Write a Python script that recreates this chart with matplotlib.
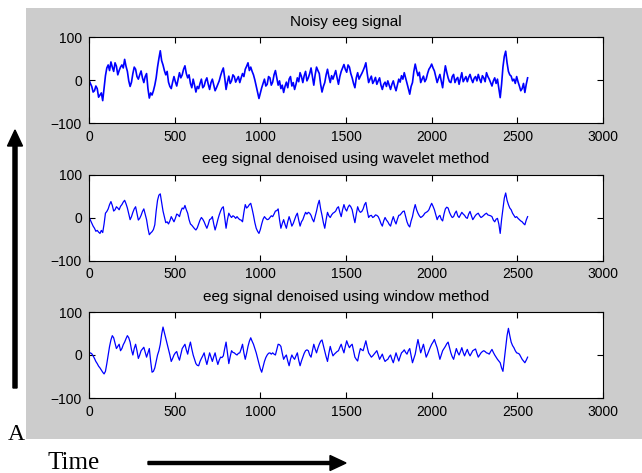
import numpy as np
import matplotlib
matplotlib.use("Agg")
import matplotlib.pyplot as plt
from matplotlib.patches import Rectangle, FancyArrow

# values every 8 samples (0 .. 2560)
STEP = 8

noisy = [
    0, -8, -15, -28, -25, -14, -20, -40, -35, -30, -48, -20, 10, 28, 35, 22, 42, 30, 20, 40,
    32, 12, 22, 30, 35, 28, 48, 32, 20, -2, -15, -5, 15, 30, 25, 8, 2, 12, 21, 5,
    -6, 8, 15, -20, -42, -30, -35, -25, -12, 5, 30, 50, 68, 45, 35, 22, 12, 20, -5, -15,
    -20, -5, 8, -4, -14, 2, 17, 5, 12, 25, 33, 15, 5, 12, -8, -18, 2, -12, -28, -15,
    -20, -8, 2, -18, -14, -2, 5, -10, -22, -6, 2, -12, -25, -18, -10, -2, 10, 20, 28, 5,
    -22, -5, 9, -8, -2, 12, 8, -5, 2, 8, -6, 5, 15, 8, 25, 32, 40, 22, 30, 20,
    12, 0, -14, -28, -43, -30, -18, -8, 2, -14, -10, 8, 5, -12, -5, 12, 22, 5, -12, -2,
    -20, -12, -29, -15, -5, -18, 2, 8, -14, -6, -22, -10, 5, -4, 17, 8, -6, 10, 20, -2,
    5, 15, 28, 8, -12, 12, 30, 22, 15, -10, -28, -15, -6, 12, 25, 8, -6, 10, 2, 12,
    22, 5, -10, 8, 20, 28, 36, 25, 18, 35, 30, 15, 5, -8, -18, 5, 17, 2, 9, 15,
    22, 30, 40, 15, -6, 2, 9, -8, -2, 6, -10, -2, 5, -12, -22, -10, -5, -15, -2, -12,
    -22, -10, -2, -15, -25, -12, 2, -5, 10, 2, 17, 5, -6, -20, -33, -15, -6, 20, 37, 22,
    10, 18, -6, 2, 9, -4, 2, 15, 25, 30, 37, 28, 21, 8, -6, 4, 13, -2, -18, 10,
    33, 18, 5, -4, -6, 8, 13, -6, 2, 6, -10, 4, 17, -4, 2, 8, -4, 6, 13, 2,
    -6, 4, 8, -2, 13, 2, -6, 10, 5, -4, 17, 8, 2, -6, -14, -2, 5, -8, 2, -20,
    -41, -10, 30, 55, 67, 40, 20, 12, 9, -2, 2, -8, 8, -4, -14, -25, -20, -8, -29, -10,
    5,
]

wavelet = [
    2, -6, -13, -20, -25, -32, -30, -34, -37, -30, -35, -15, 10, 14, 20, 30, 37, 28, 15, 18,
    25, 22, 18, 26, 30, 36, 40, 32, 22, 8, -5, 2, 12, 20, 25, 10, -6, -2, 5, 14,
    20, 8, -5, -25, -40, -36, -33, -28, -17, 15, 40, 52, 55, 35, 15, 2, -12, -10, -15, -8,
    2, -4, -10, -2, 8, 6, 2, 14, 22, 20, 28, 18, 10, -5, -15, -18, -22, -26, -29, -24,
    -15, -6, 0, -4, -10, -18, -25, -16, -5, -3, 2, -15, -29, -18, -5, 6, 15, 22, 25, 0,
    -25, -5, 10, 4, 0, 4, 2, -2, 2, -2, -5, -6, -10, 12, 30, 22, 25, 30, 33, 20,
    5, -12, -25, -32, -37, -28, -15, -4, 2, -2, -5, -4, 0, 4, 2, 8, 15, 16, 20, -5,
    -25, -14, -5, -16, -25, -10, 2, -8, -20, -14, -5, 4, 10, -6, -20, -10, -5, 4, 12, 8,
    12, 10, 5, -4, -10, 2, 15, 30, 40, 20, 5, -12, -25, -5, 12, 4, 0, 6, 10, 12,
    15, 22, 25, 12, 2, 18, 30, 20, 15, 24, 29, 25, 18, 2, -12, 8, 25, 16, 12, 14,
    20, 30, 35, 16, 0, 4, 5, 0, 2, 6, 5, 2, -5, -14, -20, -8, 0, -6, -10, -16,
    -20, -8, 2, -8, -15, -4, 5, 6, 10, 14, 15, 2, -10, -18, -22, -8, 2, 18, 30, 18,
    10, 4, 0, 2, 5, 10, 12, 14, 18, 26, 33, 26, 18, 6, -5, 2, 5, -4, -8, 8,
    20, 24, 22, 12, 5, 0, 2, 10, 15, 4, 0, 6, 12, 8, 5, 0, -2, 8, 14, 4,
    -5, 0, 5, 8, 10, 4, 0, 2, 5, 8, 10, 6, 5, 4, 2, -6, -10, -4, -2, -15,
    -37, -5, 20, 45, 57, 40, 30, 22, 18, 10, 5, 0, 2, -2, -5, -8, -10, -14, -17, -6,
    2,
]

window = [
    3, 5, 3, -2, -8, -15, -20, -26, -30, -35, -40, -44, -38, -20, 0, 20, 35, 45, 40, 28,
    15, 20, 25, 10, 15, 24, 30, 38, 45, 40, 30, 12, 0, 15, 25, 10, -8, 0, 10, 14,
    18, 6, -5, 5, 15, -15, -40, -38, -30, -15, 0, 10, 25, 48, 65, 52, 40, 25, 12, 0,
    -15, -8, 0, 5, 8, -4, -12, 2, 15, 20, 25, 12, 2, 18, 30, 14, 0, -10, -20, -24,
    -25, -15, -8, -2, 5, -10, -22, -8, 5, -5, -15, -4, 5, -10, -22, -12, -5, -6, -2, 15,
    30, 5, -20, -4, 10, 6, 5, 2, 0, 4, 5, 14, 25, 5, -10, 4, 20, 32, 40, 32,
    25, 15, 5, -8, -20, -32, -40, -28, -15, -6, 0, 4, 5, 2, 5, 2, 0, 12, 25, 24,
    20, 4, -10, -4, 0, -14, -25, -10, 0, -6, -10, -2, 5, -12, -25, -14, -5, 4, 10, 12,
    10, 0, -5, 10, 25, 14, 5, 16, 25, 32, 35, 22, 10, -4, -15, 4, 20, 8, -2, 2,
    5, 8, 10, 18, 25, 14, 5, 20, 33, 24, 17, 22, 25, 10, -5, -10, -14, 2, 15, 12,
    10, 22, 33, 18, 5, 0, -5, -2, 2, 6, 10, 0, -10, -4, 2, -8, -15, -12, -10, -4,
    0, -10, -18, -6, 5, -5, -14, -4, 5, 8, 12, 6, 2, 10, 15, -2, -18, -8, 2, 20,
    36, 20, 5, 15, 25, 10, -5, 2, 10, 18, 25, 30, 36, 26, 17, 4, -10, 0, 10, 15,
    20, 26, 30, 18, 5, -4, -10, 2, 15, 6, 0, 8, 17, 6, -2, 6, 13, 4, -2, 4,
    10, 12, 14, 4, -5, 0, 5, 8, 10, 8, 5, 4, 2, 8, 13, 6, 0, -5, -10, -14,
    -18, -30, -38, -10, 20, 45, 62, 45, 30, 22, 17, 10, 5, 4, 2, -4, -10, -14, -18, -12,
    -5,
]

titles = [
    "Noisy eeg signal",
    "eeg signal denoised using wavelet method",
    "eeg signal denoised using window method",
]
xticks = [0, 500, 1000, 1500, 2000, 2500, 3000]
yticks = [-100, 0, 100]

W, H = 642, 473
fig = plt.figure(figsize=(W / 100, H / 100), dpi=100)
fig.patch.set_facecolor("white")

# matlab style grey figure panel
fig.add_artist(Rectangle((26 / W, 1 - 439 / H), 1 - 26 / W, (439 - 8) / H,
                         transform=fig.transFigure, facecolor="#cccccc",
                         edgecolor="none", zorder=0))

left, width, height = 89 / W, 514 / W, 86 / H
tops = [37, 174.5, 312]
widths = [1.2, 0.9, 0.9]

for sig, title, top, lw in zip([noisy, wavelet, window], titles, tops, widths):
    ax = fig.add_axes([left, 1 - (top + 86) / H, width, height])
    x = np.arange(len(sig)) * STEP
    ax.plot(x, sig, color="blue", lw=lw)
    ax.set_xlim(0, 3000)
    ax.set_ylim(-100, 100)
    ax.set_xticks(xticks)
    ax.set_yticks(yticks)
    ax.tick_params(direction="in", length=4, top=True, right=True,
                   labelsize=10, pad=5, width=0.8)
    for lab in ax.get_xticklabels() + ax.get_yticklabels():
        lab.set_fontfamily("Liberation Sans")
    ax.set_title(title, fontsize=11, family="Liberation Sans", pad=8)
    for sp in ax.spines.values():
        sp.set_linewidth(0.8)

# hand drawn axis annotations outside the panel
fig.add_artist(FancyArrow(15 / W, 1 - 388 / H, 0, (388 - 146) / H,
                          width=3 / H, head_width=15 / W, head_length=16 / H,
                          length_includes_head=False, color="black",
                          transform=fig.transFigure))
fig.add_artist(FancyArrow(148 / W, 1 - 463 / H, (330 - 148) / W, 0,
                          width=3 / H, head_width=15 / H, head_length=16 / W,
                          length_includes_head=False, color="black",
                          transform=fig.transFigure))
fig.text(8 / W, 1 - 440 / H, "A", fontsize=17, family="Liberation Serif",
         ha="left", va="baseline")
fig.text(48 / W, 1 - 469 / H, "Time", fontsize=18, family="Liberation Serif",
         ha="left", va="baseline")

fig.savefig("out.png", dpi=100)
